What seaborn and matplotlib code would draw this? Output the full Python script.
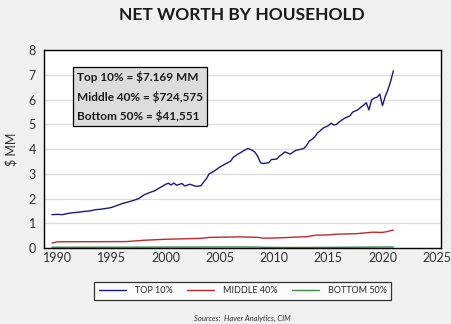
import numpy as np
import pandas as pd
import matplotlib
matplotlib.use("Agg")
import matplotlib.pyplot as plt
import seaborn as sns

# ---- data ($ MM per household) ----
top_years = [1989.5, 1990.0, 1990.5, 1991.0, 1991.5, 1992.0, 1992.5, 1993.0, 1993.5, 1994.0,
             1994.5, 1995.0, 1995.5, 1996.0, 1996.5, 1997.0, 1997.5, 1998.0, 1998.5, 1999.0,
             1999.5, 2000.0, 2000.25, 2000.5, 2000.75, 2001.0, 2001.5, 2001.75, 2002.25, 2002.75,
             2003.0, 2003.25, 2003.5, 2003.75, 2004.0, 2004.5, 2005.0, 2005.5, 2006.0, 2006.25,
             2006.75, 2007.25, 2007.6, 2008.0, 2008.25, 2008.5, 2008.75, 2009.0, 2009.5, 2009.75,
             2010.25, 2010.5, 2010.75, 2011.0, 2011.5, 2011.75, 2012.0, 2012.5, 2012.75, 2013.0,
             2013.25, 2013.5, 2013.75, 2014.0, 2014.25, 2014.5, 2014.75, 2015.0, 2015.25, 2015.5,
             2015.75, 2016.0, 2016.5, 2016.75, 2017.0, 2017.25, 2017.5, 2017.75, 2018.0, 2018.25,
             2018.5, 2018.75, 2019.0, 2019.25, 2019.5, 2019.75, 2020.0, 2020.25, 2020.5, 2020.75,
             2021.0]
top_vals = [1.35, 1.36, 1.35, 1.40, 1.43, 1.45, 1.48, 1.50, 1.55, 1.57,
            1.60, 1.64, 1.72, 1.80, 1.86, 1.92, 2.00, 2.15, 2.24, 2.32,
            2.45, 2.58, 2.62, 2.55, 2.63, 2.54, 2.61, 2.51, 2.58, 2.50,
            2.50, 2.52, 2.67, 2.80, 3.00, 3.12, 3.28, 3.40, 3.52, 3.68,
            3.82, 3.95, 4.03, 3.95, 3.87, 3.70, 3.45, 3.42, 3.45, 3.58,
            3.60, 3.72, 3.80, 3.89, 3.80, 3.88, 3.95, 4.00, 4.03, 4.15,
            4.33, 4.40, 4.50, 4.65, 4.74, 4.85, 4.90, 4.95, 5.05, 4.98,
            5.00, 5.10, 5.25, 5.30, 5.35, 5.50, 5.55, 5.60, 5.70, 5.78,
            5.88, 5.59, 6.00, 6.07, 6.10, 6.23, 5.76, 6.13, 6.40, 6.74,
            7.169]

mid_years = [1989.5, 1990.0, 1996.4, 1997.9, 1999.8, 2003.2, 2004.1, 2006.85, 2008.5, 2009.0,
             2009.6, 2010.5, 2013.0, 2013.9, 2015.1, 2015.75, 2017.6, 2019.1, 2020.0, 2020.5,
             2020.8, 2021.0]
mid_vals = [0.20, 0.25, 0.26, 0.31, 0.35, 0.39, 0.43, 0.45, 0.43, 0.40,
            0.40, 0.41, 0.46, 0.52, 0.53, 0.56, 0.58, 0.64, 0.63, 0.67,
            0.71, 0.7246]

bot_years = [1989.5, 1995.0, 2000.0, 2005.0, 2008.0, 2010.0, 2013.0, 2016.0, 2019.0, 2021.0]
bot_vals = [0.030, 0.032, 0.036, 0.040, 0.040, 0.022, 0.020, 0.028, 0.036, 0.0416]

series_names = ["TOP 10%", "MIDDLE 40%", "BOTTOM 50%"]
series_colors = ["#1a1a80", "#c0282d", "#3a8a4a"]
x_ticks = [1990, 1995, 2000, 2005, 2010, 2015, 2020, 2025]
y_ticks = [0, 1, 2, 3, 4, 5, 6, 7, 8]
title = "NET WORTH BY HOUSEHOLD"
box_lines = ["Top 10% = $7.169 MM", "Middle 40% = $724,575", "Bottom 50% = $41,551"]
source = "Sources:  Haver Analytics, CIM"

df = pd.concat([
    pd.DataFrame({"year": top_years, "value": top_vals, "series": series_names[0]}),
    pd.DataFrame({"year": mid_years, "value": mid_vals, "series": series_names[1]}),
    pd.DataFrame({"year": bot_years, "value": bot_vals, "series": series_names[2]}),
])

sns.set_style("white")
plt.rcParams["font.family"] = ["Lato", "DejaVu Sans"]

fig = plt.figure(figsize=(4.52, 3.24), dpi=100, facecolor="#f0f0f0")
ax = fig.add_axes([0.098, 0.2346, 0.8777, 0.610])
ax.set_facecolor("white")

sns.lineplot(data=df, x="year", y="value", hue="series", hue_order=series_names,
             palette=series_colors, ax=ax, linewidth=1.0, legend=False, sort=True,
             estimator=None)

ax.set_xlim(1988.8, 2025.4)
ax.set_ylim(0, 8)
ax.set_xticks(x_ticks)
ax.set_yticks(y_ticks)
ax.yaxis.grid(True, color="#dcdcdc", linewidth=0.9)
ax.xaxis.grid(False)
for s in ax.spines.values():
    s.set_color("black")
    s.set_linewidth(1.0)
ax.tick_params(axis="y", length=4, width=0.8, color="#404040", labelsize=9, labelcolor="#303030", pad=2)
ax.tick_params(axis="x", length=0, labelsize=9, labelcolor="#303030", pad=3)
ax.set_xlabel("")
ax.set_ylabel("$ MM", fontsize=9, color="#303030", labelpad=8)

fig.text(0.535, 0.955, title, ha="center", va="center", fontsize=12.5, fontweight="bold", color="#1a1a1a")

ax.text(0.083, 0.895, "\n".join(box_lines), transform=ax.transAxes, ha="left", va="top",
        fontsize=8.5, fontweight="bold", color="#1a1a1a", linespacing=1.75,
        bbox=dict(boxstyle="square,pad=0.35", facecolor="#dcdcdc", edgecolor="black", linewidth=0.9))

handles = [plt.Line2D([], [], color=c, linewidth=1.0) for c in series_colors]
leg = fig.legend(handles, series_names, loc="center", bbox_to_anchor=(0.537, 0.102), ncol=3,
                 frameon=True, fancybox=False, fontsize=6.5, handlelength=3.0, columnspacing=1.6,
                 handletextpad=1.0, borderpad=0.5)
leg.get_frame().set_edgecolor("black")
leg.get_frame().set_linewidth(0.9)
leg.get_frame().set_facecolor("white")

fig.text(0.537, 0.018, source, ha="center", va="center", fontsize=5.5, style="italic", color="#303030")

fig.savefig("out.png", dpi=100, facecolor=fig.get_facecolor())
